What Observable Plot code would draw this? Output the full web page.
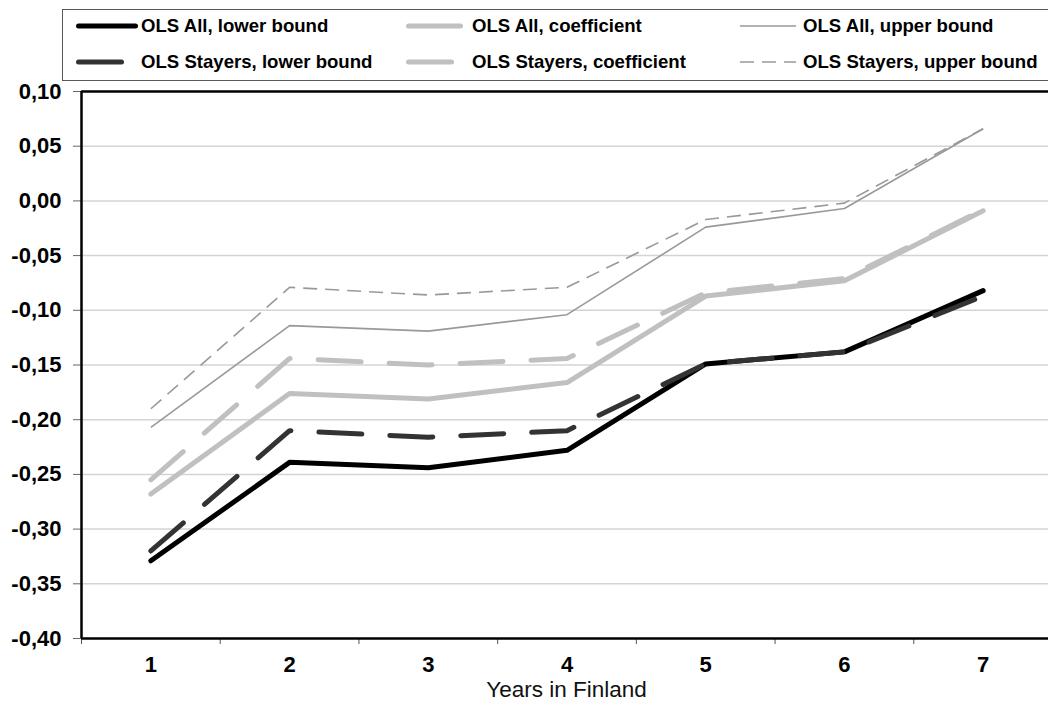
<!DOCTYPE html>
<html>
<head>
<meta charset="utf-8">
<script src="https://cdn.jsdelivr.net/npm/d3@7"></script>
<script src="https://cdn.jsdelivr.net/npm/@observablehq/plot@0.6"></script>
<style>
  body { margin: 0; background: #fff; font-family: "Liberation Sans", Arial, sans-serif; }
  #wrap { position: relative; width: 1048px; height: 705px; overflow: hidden; }
  #legend { position: absolute; left: 62px; top: 9px; width: 990px; height: 72px; border: 1.5px solid #595959; box-sizing: border-box; }
  #chart { position: absolute; left: 0; top: 84px; }
  #xtitle { position: absolute; left: 81px; width: 971px; top: 677px; text-align: center; font-size: 22.5px; line-height: 26px; color: #111; }
  .item { position: absolute; height: 24px; white-space: nowrap; }
  .item span { position: absolute; top: 0; font-weight: bold; font-size: 18.6px; line-height: 24px; color: #000; }
  .item svg { position: absolute; top: 0; overflow: visible; }
</style>
</head>
<body>
<div id="wrap">
  <div id="legend"></div>
  <div id="chart"></div>
  <div id="xtitle">Years in Finland</div>
</div>
<script>
// ---- Data ----
const years = [1, 2, 3, 4, 5, 6, 7];
const allLower  = [-0.329, -0.239, -0.244, -0.228, -0.149, -0.138, -0.082];
const allCoef   = [-0.268, -0.176, -0.181, -0.166, -0.087, -0.073, -0.009];
const allUpper  = [-0.207, -0.114, -0.119, -0.104, -0.024, -0.007, 0.066];
const stayLower = [-0.320, -0.210, -0.216, -0.210, -0.149, -0.138, -0.087];
const stayCoef  = [-0.255, -0.144, -0.150, -0.144, -0.084, -0.071, -0.008];
const stayUpper = [-0.190, -0.079, -0.086, -0.079, -0.017, -0.002, 0.066];
const seriesNames = [
  "OLS All, lower bound", "OLS All, coefficient", "OLS All, upper bound",
  "OLS Stayers, lower bound", "OLS Stayers, coefficient", "OLS Stayers, upper bound"
];
const seriesValues = [allLower, allCoef, allUpper, stayLower, stayCoef, stayUpper];
const yTicks = [-0.40, -0.35, -0.30, -0.25, -0.20, -0.15, -0.10, -0.05, 0.00, 0.05, 0.10];
const xLabel = "Years in Finland";

// ---- Styles ----
const styles = [
  {stroke: "#000000", width: 5,   dash: null},
  {stroke: "#c0c0c0", width: 5,   dash: null},
  {stroke: "#999999", width: 1.6, dash: null},
  {stroke: "#333333", width: 5,   dash: "43,28"},
  {stroke: "#c0c0c0", width: 5,   dash: "43,28"},
  {stroke: "#999999", width: 1.6, dash: "14,8"}
];

const table = [];
seriesNames.forEach((name, i) => years.forEach((yr, j) => table.push({series: name, year: yr, value: seriesValues[i][j]})));

const bounds = d3.range(years.length + 1).map(i => years[0] - 0.5 + i);
const fmt = d => d.toFixed(2).replace(".", ",").replace("-0,00", "0,00");

const lineMarks = seriesNames.map((name, i) => Plot.line(table.filter(d => d.series === name), {
  x: "year", y: "value",
  stroke: styles[i].stroke, strokeWidth: styles[i].width,
  strokeDasharray: styles[i].dash || undefined,
  strokeLinecap: styles[i].width > 2 ? "round" : "butt",
  strokeLinejoin: "round"
}));

const chart = Plot.plot({
  width: 1048, height: 621,
  marginTop: 7, marginBottom: 67, marginLeft: 81, marginRight: 0,
  style: {fontFamily: "'Liberation Sans', Arial, sans-serif", background: "#fff", color: "#000", overflow: "visible"},
  x: {domain: [bounds[0], bounds[bounds.length - 1]], range: [81, 1052]},
  y: {domain: [yTicks[0], yTicks[yTicks.length - 1]], range: [554, 7]},
  marks: [
    Plot.gridY(yTicks.slice(1, -1), {stroke: "#d4d4d4", strokeOpacity: 1, strokeWidth: 1.5}),
    Plot.axisY(yTicks, {tickSize: 8, tickPadding: 12, tickFormat: fmt, fontSize: 22, fontWeight: "bold", stroke: "#666", label: null}),
    Plot.axisX(bounds, {tickSize: 6, tickFormat: () => "", stroke: "#555", label: null}),
    Plot.axisX(years, {tickSize: 0, tickPadding: 18, tickFormat: d => String(d), fontSize: 22, fontWeight: "bold", label: null}),
    Plot.ruleY([yTicks[yTicks.length - 1]], {stroke: "#000", strokeWidth: 2.5}),
    Plot.ruleY([yTicks[0]], {stroke: "#000", strokeWidth: 2.5}),
    Plot.ruleX([bounds[0]], {stroke: "#000", strokeWidth: 2.5}),
    ...lineMarks
  ]
});
document.getElementById("chart").appendChild(chart);

// ---- Legend ----
const legend = document.getElementById("legend");
const colSwatchX = [13, 343, 677];
const colTextX = [78, 409, 740];
const colSwatchLen = [62, 57, 56];
const rowY = [4, 40];
const legendOrder = [0, 1, 2, 3, 4, 5];
legendOrder.forEach((si, k) => {
  const row = Math.floor(k / 3), col = k % 3;
  const s = styles[si];
  const div = document.createElement("div");
  div.className = "item";
  div.style.left = "0px";
  div.style.top = rowY[row] + "px";
  const ns = "http://www.w3.org/2000/svg";
  const svg = document.createElementNS(ns, "svg");
  svg.setAttribute("width", colSwatchLen[col] + 6);
  svg.setAttribute("height", 24);
  svg.style.left = colSwatchX[col] + "px";
  const ln = document.createElementNS(ns, "line");
  const off = s.width > 2 ? 2.5 : 0;
  ln.setAttribute("x1", off); ln.setAttribute("x2", colSwatchLen[col] - off);
  ln.setAttribute("y1", 12); ln.setAttribute("y2", 12);
  ln.setAttribute("stroke", s.stroke);
  ln.setAttribute("stroke-width", s.width);
  if (s.dash) ln.setAttribute("stroke-dasharray", s.dash);
  ln.setAttribute("stroke-linecap", s.width > 2 ? "round" : "butt");
  svg.appendChild(ln);
  div.appendChild(svg);
  const sp = document.createElement("span");
  sp.textContent = seriesNames[si];
  sp.style.left = colTextX[col] + "px";
  div.appendChild(sp);
  legend.appendChild(div);
});
</script>
</body>
</html>
